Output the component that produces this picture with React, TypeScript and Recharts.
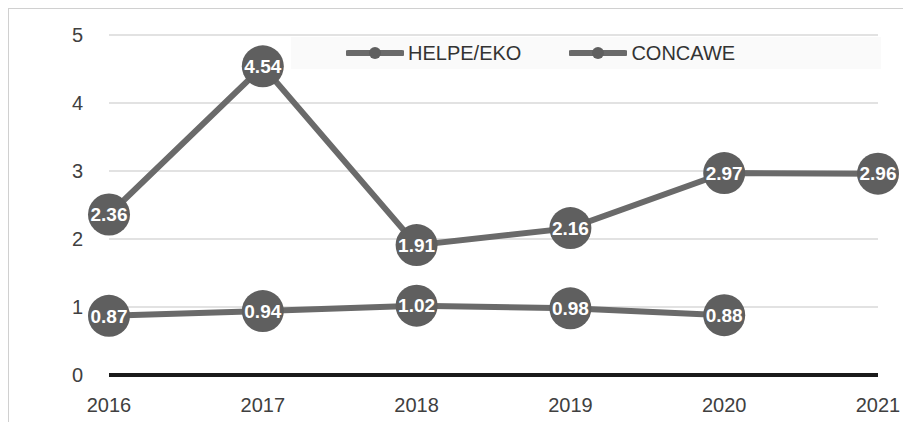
import { LineChart, Line, XAxis, YAxis, CartesianGrid, LabelList } from "recharts";

const years = ["2016", "2017", "2018", "2019", "2020", "2021"];
const helpeEko = [2.36, 4.54, 1.91, 2.16, 2.97, 2.96];
const concawe: (number | null)[] = [0.87, 0.94, 1.02, 0.98, 0.88, null];
const yTicks = [0, 1, 2, 3, 4, 5];
const seriesNames = ["HELPE/EKO", "CONCAWE"];

const data = years.map((year, i) => ({
  year,
  helpe: helpeEko[i],
  concawe: concawe[i],
}));

const LINE = "#6a6a6a";
const DOT = "#5f5f5f";
const FONT = "'Liberation Sans', Arial, sans-serif";

const fmt = (v: unknown) => (typeof v === "number" ? v.toFixed(2) : "");

function LegendIcon() {
  return (
    <svg width={58} height={14} style={{ marginRight: 4 }}>
      <line x1={2} y1={7} x2={56} y2={7} stroke={LINE} strokeWidth={6} strokeLinecap="round" />
      <circle cx={29} cy={7} r={6} fill={DOT} />
    </svg>
  );
}

// legend drawn as an overlay so it doesn't push the plot area down
function ChartLegend() {
  return (
    <div
      style={{
        position: "absolute",
        left: 282,
        top: 28,
        width: 590,
        height: 32,
        background: "#fafafa",
        display: "flex",
        alignItems: "center",
        fontFamily: FONT,
        fontSize: 20,
        color: "#333",
      }}
    >
      {seriesNames.map((name, i) => (
        <div
          key={name}
          style={{ display: "flex", alignItems: "center", marginLeft: i === 0 ? 55 : 48 }}
        >
          <LegendIcon />
          {name}
        </div>
      ))}
    </div>
  );
}

export default function App() {
  return (
    <div
      style={{
        position: "relative",
        width: 902,
        height: 413,
        borderTop: "1px solid #d0d0d0",
        borderLeft: "1px solid #d0d0d0",
        background: "#fff",
      }}
    >
      <LineChart
        width={902}
        height={413}
        data={data}
        margin={{ top: 26, right: 33, left: 0, bottom: 0 }}
      >
        <CartesianGrid horizontal vertical={false} stroke="#d9d9d9" strokeWidth={1.5} />
        <XAxis
          dataKey="year"
          height={47}
          interval={0}
          tickLine={false}
          axisLine={{ stroke: "#1a1a1a", strokeWidth: 4 }}
          tickMargin={17}
          tick={{ fill: "#404040", fontSize: 20, fontFamily: FONT }}
        />
        <YAxis
          width={100}
          domain={[0, 5]}
          ticks={yTicks}
          axisLine={false}
          tickLine={false}
          tickMargin={20}
          tick={{ fill: "#404040", fontSize: 20, fontFamily: FONT }}
        />
        <Line
          dataKey="helpe"
          name={seriesNames[0]}
          stroke={LINE}
          strokeWidth={6}
          dot={{ r: 21, fill: DOT, stroke: DOT, strokeWidth: 0 }}
          activeDot={false}
          isAnimationActive={false}
        >
          <LabelList
            dataKey="helpe"
            position="center"
            formatter={fmt}
            fill="#fff"
            fontSize={19}
            fontWeight="bold"
            fontFamily={FONT}
          />
        </Line>
        <Line
          dataKey="concawe"
          name={seriesNames[1]}
          stroke={LINE}
          strokeWidth={6}
          dot={{ r: 21, fill: DOT, stroke: DOT, strokeWidth: 0 }}
          activeDot={false}
          isAnimationActive={false}
        >
          <LabelList
            dataKey="concawe"
            position="center"
            formatter={fmt}
            fill="#fff"
            fontSize={19}
            fontWeight="bold"
            fontFamily={FONT}
          />
        </Line>
      </LineChart>
      <ChartLegend />
    </div>
  );
}
